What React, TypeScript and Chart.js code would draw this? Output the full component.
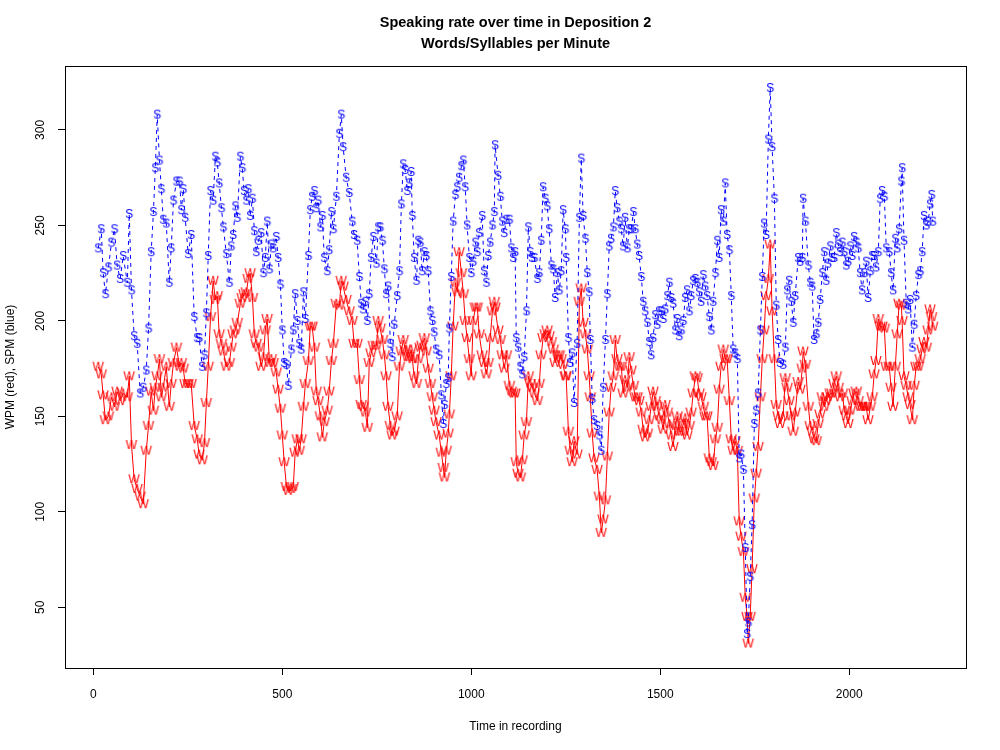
import React, { useEffect, useRef } from "react";
import { Chart, registerables } from "chart.js";

Chart.register(...registerables);

// Time in recording (x), shared by both series
const TIME = [
  13, 21, 26, 32, 40, 48, 56, 63, 71, 79, 90, 95, 101, 108, 116, 124, 132, 140, 146, 153, 159, 164, 169, 175, 180, 185, 193, 201, 206, 212, 220, 228, 233, 238, 243, 251, 259, 267, 275, 280, 288, 294, 299, 304, 310, 317, 323,
  328, 333, 339, 344, 352, 360, 365, 370, 376, 381, 389, 394, 399, 405, 410, 415, 421, 426, 431, 437, 444, 450, 455, 460, 466, 471, 476, 484, 489, 495, 500, 505, 511, 516, 524, 529, 534, 540, 545, 550, 556, 561, 569, 574, 579, 585, 590, 595, 601, 606, 611, 619, 624, 630, 635, 643,
  651, 656, 661, 669, 677, 685, 690, 698, 704, 709, 714, 720, 725, 730, 735, 741, 749, 754, 759, 765, 770, 775, 780, 786, 791, 796, 804, 810, 815, 820, 825, 831, 836, 841, 844, 849, 855, 860, 865, 870, 876, 881, 886, 892, 897, 902, 907, 915, 921, 926, 929, 934, 939, 942, 947, 952, 958,
  963, 968, 974, 979, 984, 989, 995, 1000, 1005, 1011, 1016, 1021, 1029, 1034, 1040, 1045, 1050, 1056, 1061, 1063, 1071, 1077, 1082, 1087, 1093, 1101, 1106, 1111, 1116, 1119, 1124, 1130, 1135, 1140, 1146, 1151, 1156, 1161, 1167, 1175, 1180, 1185, 1190, 1196, 1201, 1206, 1212, 1217, 1222, 1228, 1233, 1238, 1243, 1249, 1251, 1257, 1262, 1267, 1272,
  1280, 1286, 1291, 1296, 1302, 1307, 1312, 1315, 1320, 1325, 1333, 1339, 1344, 1349, 1355, 1360, 1365, 1370, 1376, 1381, 1386, 1392, 1397, 1402, 1407, 1413, 1418, 1423, 1429, 1434, 1439, 1444, 1450, 1455, 1460, 1466, 1471, 1476, 1481, 1487, 1492, 1497, 1503, 1508, 1513, 1519, 1524, 1529, 1534, 1540, 1545, 1550, 1556, 1561, 1566, 1571, 1577, 1582, 1587, 1593,
  1598, 1603, 1608, 1614, 1619, 1624, 1630, 1635, 1640, 1646, 1651, 1656, 1661, 1667, 1672, 1677, 1683, 1688, 1693, 1698, 1704, 1709, 1714, 1720, 1725, 1730, 1733, 1738, 1743, 1749, 1754, 1759, 1765, 1770, 1775, 1780, 1786, 1791, 1796, 1802, 1807, 1812, 1817, 1825, 1831, 1836, 1841, 1847, 1852, 1857, 1865, 1870, 1876, 1878, 1884, 1892, 1897, 1902, 1907,
  1913, 1918, 1923, 1929, 1934, 1939, 1944, 1950, 1955, 1960, 1966, 1971, 1976, 1982, 1987, 1992, 1997, 2003, 2008, 2013, 2019, 2024, 2029, 2034, 2040, 2045, 2050, 2056, 2061, 2066, 2071, 2077, 2082, 2087, 2093, 2098, 2106, 2111, 2116, 2122, 2127, 2132, 2138, 2140, 2145, 2151, 2156, 2161, 2167, 2172, 2177, 2183, 2188, 2193, 2198, 2204, 2209, 2214, 2218, 2221,
];

// Words per minute (red)
const WPM = [
  176, 172, 161, 148, 150, 160, 155, 163, 158, 162, 160, 171, 135, 117, 112, 108, 104, 132, 145, 163, 153, 165, 171, 180, 160, 165, 176, 155, 167, 178, 186, 176, 178, 175, 167, 167, 167, 145, 138, 130, 127, 136, 157, 176, 202, 221, 211,
  213, 193, 188, 184, 176, 178, 186, 193, 195, 199, 209, 212, 214, 215, 222, 225, 212, 193, 188, 186, 176, 181, 195, 201, 178, 180, 178, 173, 164, 154, 140, 126, 113, 111, 112, 113, 131, 138, 132, 138, 155, 167, 179, 197, 197, 186, 163, 158, 150, 139, 147, 153, 163, 179, 188, 209,
  208, 221, 218, 211, 205, 200, 188, 188, 169, 156, 155, 152, 144, 178, 183, 187, 187, 200, 196, 190, 182, 171, 155, 145, 140, 142, 150, 176, 184, 190, 185, 181, 181, 185, 180, 171, 167, 180, 186, 187, 191, 184, 175, 167, 160, 153, 147, 140, 131, 123, 118, 132, 141, 151, 171, 197, 220,
  215, 236, 225, 214, 200, 191, 180, 171, 200, 207, 207, 193, 182, 178, 172, 178, 191, 205, 210, 207, 195, 190, 182, 175, 182, 166, 163, 162, 162, 126, 120, 118, 127, 140, 147, 171, 167, 165, 162, 158, 167, 182, 191, 193, 195, 192, 189, 185, 178, 182, 182, 180, 177, 171, 171, 142, 132, 126, 137,
  130, 210, 217, 199, 193, 185, 171, 160, 141, 128, 122, 108, 89, 96, 106, 129, 152, 165, 171, 190, 180, 176, 176, 162, 169, 165, 181, 174, 166, 160, 160, 158, 152, 143, 139, 141, 148, 155, 163, 158, 155, 150, 148, 143, 156, 152, 146, 140, 134, 145, 150, 142, 142, 146, 149, 140, 145, 152, 162, 171,
  170, 162, 160, 155, 150, 150, 128, 126, 124, 138, 144, 164, 176, 185, 180, 180, 158, 138, 132, 137, 132, 95, 87, 79, 55, 45, 31, 45, 70, 107, 120, 134, 160, 180, 195, 213, 222, 240, 205, 180, 156, 150, 146, 150, 170, 165, 158, 150, 142, 152, 168, 164, 175, 184, 177, 155, 145, 142, 138,
  137, 146, 151, 160, 155, 158, 160, 162, 162, 167, 171, 165, 160, 162, 153, 150, 146, 153, 158, 162, 163, 158, 155, 155, 155, 155, 148, 155, 160, 172, 179, 201, 197, 197, 196, 176, 176, 165, 155, 176, 193, 209, 208, 200, 171, 166, 160, 156, 148, 166, 176, 176, 180, 185, 189, 186, 195, 206, 202, 197,
];

// Syllables per minute (blue)
const SPM = [
  238, 248, 225, 214, 228, 241, 248, 229, 222, 234, 220, 256, 216, 192, 188, 162, 165, 174, 196, 236, 257, 280, 308, 284, 269, 253, 251, 220, 238, 263, 273, 273, 258, 269, 254, 235, 245, 202, 191, 191, 176, 182, 204, 234, 268, 263, 286,
  283, 272, 259, 249, 235, 220, 239, 245, 260, 254, 286, 280, 268, 263, 269, 255, 264, 247, 236, 242, 246, 225, 233, 252, 227, 240, 238, 244, 233, 219, 195, 178, 177, 166, 185, 195, 214, 200, 188, 185, 215, 201, 234, 258, 265, 268, 259, 263, 249, 255, 233, 226, 237, 257, 248, 265,
  298, 308, 291, 275, 267, 252, 245, 242, 223, 209, 206, 210, 200, 214, 233, 244, 230, 249, 249, 242, 227, 214, 218, 188, 181, 198, 213, 226, 261, 282, 279, 268, 272, 278, 255, 233, 221, 242, 241, 226, 236, 234, 226, 205, 200, 194, 185, 182, 161, 146, 156, 167, 170, 196, 223, 252, 266,
  270, 275, 281, 284, 270, 250, 233, 225, 231, 241, 236, 246, 255, 226, 220, 234, 241, 250, 257, 292, 276, 265, 252, 246, 253, 253, 238, 233, 236, 191, 186, 176, 172, 181, 205, 249, 236, 233, 233, 222, 225, 242, 270, 264, 260, 248, 229, 227, 212, 225, 216, 226, 258, 248, 233, 191, 178, 183, 157,
  188, 254, 285, 255, 243, 225, 215, 190, 159, 148, 145, 140, 132, 165, 190, 214, 239, 243, 249, 268, 259, 252, 248, 239, 254, 238, 248, 248, 257, 248, 240, 234, 223, 210, 205, 199, 189, 182, 191, 203, 198, 205, 205, 201, 206, 213, 220, 212, 209, 195, 201, 192, 195, 200, 212, 216, 205, 213, 221, 222,
  220, 215, 210, 224, 218, 213, 202, 195, 210, 225, 242, 233, 258, 252, 272, 245, 237, 213, 185, 183, 180, 128, 130, 122, 81, 36, 42, 66, 93, 146, 153, 162, 195, 223, 251, 245, 295, 322, 291, 264, 208, 190, 178, 177, 186, 216, 221, 210, 199, 213, 233, 231, 233, 264, 252, 229, 220, 218, 190,
  193, 199, 211, 225, 236, 221, 230, 239, 233, 233, 246, 240, 236, 241, 236, 229, 231, 239, 234, 244, 241, 238, 225, 216, 225, 231, 212, 226, 234, 234, 228, 236, 264, 268, 265, 238, 236, 225, 216, 243, 238, 248, 273, 280, 242, 209, 206, 211, 186, 198, 213, 224, 226, 236, 255, 250, 252, 261, 266, 252,
];

const X_TICKS = [0, 500, 1000, 1500, 2000];
const Y_TICKS = [50, 100, 150, 200, 250, 300];
const TITLE_LINES = ["Speaking rate over time in Deposition 2", "Words/Syllables per Minute"];
const X_LABEL = "Time in recording";
const Y_LABEL = "WPM (red), SPM (blue)";

const FONT = "'Liberation Sans', Arial, Helvetica, sans-serif";

function makeGlyph(ch: string, color: string): HTMLCanvasElement {
  const c = document.createElement("canvas");
  c.width = 14;
  c.height = 14;
  const g = c.getContext("2d")!;
  g.font = `12px ${FONT}`;
  g.fillStyle = color;
  g.textAlign = "center";
  g.textBaseline = "alphabetic";
  g.fillText(ch, 7, 11.3);
  return c;
}

const rDecor = {
  id: "rDecor",
  afterDraw(chart: any) {
    const { ctx, chartArea } = chart;
    const ys = chart.scales.y;
    ctx.save();
    ctx.strokeStyle = "#000";
    ctx.lineWidth = 1;
    ctx.strokeRect(
      chartArea.left + 0.5,
      chartArea.top + 0.5,
      chartArea.right - chartArea.left,
      chartArea.bottom - chartArea.top
    );
    ctx.fillStyle = "#000";
    ctx.font = `12px ${FONT}`;
    ctx.textAlign = "center";
    ctx.textBaseline = "alphabetic";
    for (const v of Y_TICKS) {
      const y = ys.getPixelForValue(v);
      ctx.save();
      ctx.translate(40, y);
      ctx.rotate(-Math.PI / 2);
      ctx.fillText(String(v), 0, 4.3);
      ctx.restore();
    }
    const cx = (chartArea.left + chartArea.right) / 2;
    const cy = (chartArea.top + chartArea.bottom) / 2;
    ctx.fillText(X_LABEL, cx, 730);
    ctx.save();
    ctx.translate(10, cy);
    ctx.rotate(-Math.PI / 2);
    ctx.fillText(Y_LABEL, 0, 4.3);
    ctx.restore();
    ctx.font = `bold 14.5px ${FONT}`;
    ctx.fillText(TITLE_LINES[0], cx, 27);
    ctx.fillText(TITLE_LINES[1], cx, 48);
    ctx.restore();
  },
};

export default function App() {
  const ref = useRef<HTMLCanvasElement | null>(null);

  useEffect(() => {
    if (!ref.current) return;
    const sGlyph = makeGlyph("S", "#0000ff");
    const wGlyph = makeGlyph("W", "#ff0000");
    const gridOpts = {
      drawOnChartArea: false,
      drawTicks: true,
      tickLength: 7,
      color: "#000",
      lineWidth: 1,
    };
    const chart = new Chart(ref.current, {
      type: "line",
      data: {
        datasets: [
          {
            label: "SPM",
            data: TIME.map((t, i) => ({ x: t, y: SPM[i] })),
            borderColor: "#0000ff",
            borderWidth: 1,
            borderDash: [4, 4],
            pointStyle: sGlyph as any,
            pointRadius: 5,
            fill: false,
            tension: 0,
            order: 0,
          },
          {
            label: "WPM",
            data: TIME.map((t, i) => ({ x: t, y: WPM[i] })),
            borderColor: "#ff0000",
            borderWidth: 1,
            pointStyle: wGlyph as any,
            pointRadius: 5,
            fill: false,
            tension: 0,
            order: 1,
          },
        ],
      },
      options: {
        responsive: false,
        animation: false,
        devicePixelRatio: 1,
        events: [],
        layout: { padding: { left: 0, right: 34, top: 66, bottom: 0 } },
        plugins: {
          legend: { display: false },
          tooltip: { enabled: false },
          title: { display: false },
        },
        scales: {
          x: {
            type: "linear",
            min: -75,
            max: 2309,
            afterBuildTicks: (s: any) => {
              s.ticks = X_TICKS.map((v) => ({ value: v }));
            },
            afterFit: (s: any) => {
              s.height = 82;
            },
            grid: gridOpts,
            border: { display: false },
            ticks: {
              color: "#000",
              font: { family: FONT, size: 12 },
              padding: 12,
              maxRotation: 0,
              autoSkip: false,
              callback: (v: any) => String(v),
            },
          },
          y: {
            type: "linear",
            min: 18.2,
            max: 333.5,
            afterBuildTicks: (s: any) => {
              s.ticks = Y_TICKS.map((v) => ({ value: v }));
            },
            afterFit: (s: any) => {
              s.width = 65;
            },
            grid: gridOpts,
            border: { display: false },
            ticks: { display: false },
          },
        },
      } as any,
      plugins: [rDecor],
    });
    return () => chart.destroy();
  }, []);

  return (
    <div style={{ position: "absolute", left: 0, top: 0, width: 1000, height: 750, background: "#fff" }}>
      <canvas ref={ref} width={1000} height={750} style={{ display: "block" }} />
    </div>
  );
}
